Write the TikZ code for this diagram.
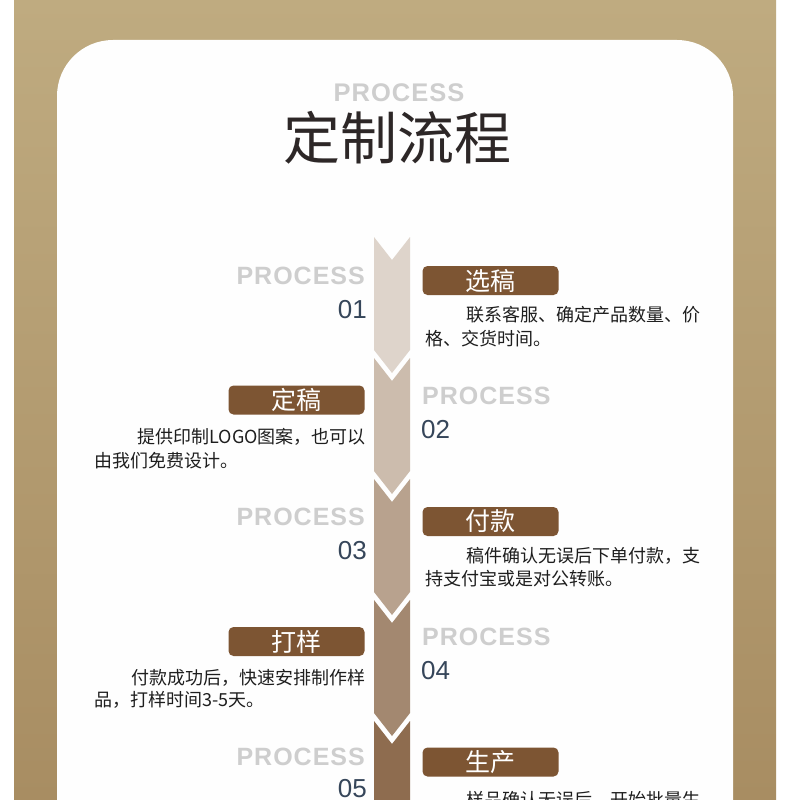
\documentclass[tikz,border=0pt]{standalone}
\usepackage{fontspec}
\setmainfont{Noto Sans CJK SC}
\newfontfamily\latinfont{Liberation Sans}
\newfontfamily\procfont[LetterSpace=4]{Liberation Sans}
\definecolor{tanA}{HTML}{BFAB80}
\definecolor{tanB}{HTML}{A88D62}
\definecolor{cardwhite}{HTML}{FEFEFE}
\definecolor{boxbrown}{HTML}{7D5533}
\definecolor{procgray}{HTML}{CECECE}
\definecolor{numblue}{HTML}{36465A}
\definecolor{titledark}{HTML}{2D2727}
\definecolor{desctext}{HTML}{1E1E1E}
\definecolor{segA}{HTML}{DED4CB}
\definecolor{segB}{HTML}{CCBCAD}
\definecolor{segC}{HTML}{B8A28E}
\definecolor{segD}{HTML}{A38870}
\definecolor{segE}{HTML}{8E6C4F}
\begin{document}
\begin{tikzpicture}[x=1pt,y=-1pt,
  stepbox/.style={fill=boxbrown, rounded corners=5pt, minimum width=136pt, minimum height=29pt, inner sep=0pt, text=white, font=\fontsize{25}{25}\selectfont},
  proclabel/.style={inner sep=0pt, text=procgray, font=\procfont\bfseries\fontsize{25}{25}\selectfont},
  numlabel/.style={inner sep=0pt, text=numblue, font=\latinfont\fontsize{26}{26}\selectfont},
  desc/.style={inner sep=0pt, text=desctext, font=\fontsize{18}{18}\selectfont}
]
\useasboundingbox (0,0) rectangle (790,800);
\clip (0,0) rectangle (790,800);
\fill[white] (0,0) rectangle (790,800);
\shade[top color=tanA, bottom color=tanB] (14,0) rectangle (776,800);
\fill[cardwhite, rounded corners=56pt] (57,860) -- (57,40) -- (733,40) -- (733,860) -- cycle;

% title
\node[inner sep=0pt, text=procgray, font=\procfont\bfseries\fontsize{25.5}{25.5}\selectfont] (ttlproc) at (399,93) {PROCESS};
\node[inner sep=0pt, text=titledark, font=\fontsize{57}{57}\selectfont] (ttl) at (397,138) {定制流程};

% chevron column
\foreach \t/\c in {237/segA, 358/segB, 479/segC, 600/segD, 721/segE}
  \fill[\c] (374,\t) -- (392,\t+23) -- (410,\t) -- (410,\t+113) -- (392,\t+136) -- (374,\t+113) -- cycle;

% step 1
\node[proclabel, anchor=east] (p1) at (365,276) {PROCESS};
\node[numlabel, anchor=east] (n1) at (367,310) {01};
\node[stepbox] (b1) at (490.5,280.5) {选稿};
\node[desc, anchor=east] (d1a) at (701,315) {联系客服、确定产品数量、价};
\node[desc, anchor=west] (d1b) at (425,339) {格、交货时间。};

% step 2
\node[proclabel, anchor=west] (p2) at (422,396) {PROCESS};
\node[numlabel, anchor=west] (n2) at (421,430) {02};
\node[stepbox] (b2) at (296.5,400) {定稿};
\node[desc, anchor=east] (d2a) at (366,437) {提供印制LOGO图案，也可以};
\node[desc, anchor=west] (d2b) at (94,461) {由我们免费设计。};

% step 3
\node[proclabel, anchor=east] (p3) at (365,517) {PROCESS};
\node[numlabel, anchor=east] (n3) at (367,551) {03};
\node[stepbox] (b3) at (490.5,521.5) {付款};
\node[desc, anchor=east] (d3a) at (701,556) {稿件确认无误后下单付款，支};
\node[desc, anchor=west] (d3b) at (425,579) {持支付宝或是对公转账。};

% step 4
\node[proclabel, anchor=west] (p4) at (422,637) {PROCESS};
\node[numlabel, anchor=west] (n4) at (421,671) {04};
\node[stepbox] (b4) at (296.5,641.5) {打样};
\node[desc, anchor=east] (d4a) at (366,678) {付款成功后，快速安排制作样};
\node[desc, anchor=west] (d4b) at (94,700) {品，打样时间3-5天。};

% step 5
\node[proclabel, anchor=east] (p5) at (365,757) {PROCESS};
\node[numlabel, anchor=east] (n5) at (367,788.5) {05};
\node[stepbox] (b5) at (490.5,762) {生产};
\node[desc, anchor=east] (d5a) at (701,800) {样品确认无误后，开始批量生};
\end{tikzpicture}
\end{document}
